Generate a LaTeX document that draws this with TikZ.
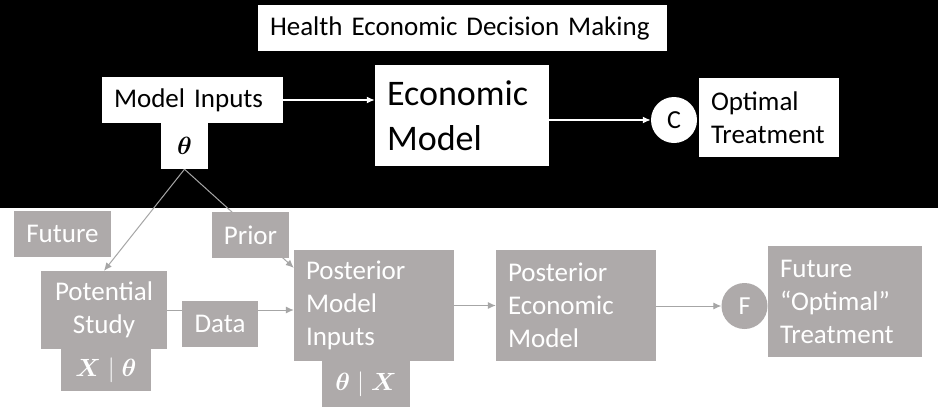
\documentclass[tikz,border=0pt]{standalone}
\usepackage{fontspec}
\usepackage{amsmath}
\usepackage{bm}
\setmainfont{Carlito}
\usetikzlibrary{arrows.meta,backgrounds}
\definecolor{boxgray}{HTML}{AEAAAA}
\definecolor{linegray}{HTML}{A6A6A6}
\newcommand\boxfont[2]{\fontsize{#1}{#2}\selectfont\spaceskip=0.2em\relax}

\begin{document}
\begin{tikzpicture}[x=1pt,y=-1pt,
  every node/.style={inner xsep=12pt,inner ysep=0pt,font=\boxfont{27}{33}},
  whitebox/.style={fill=white,text=black},
  graybox/.style={fill=boxgray,text=white},
  dot/.style={circle,inner sep=0pt,minimum size=46pt,font=\boxfont{26}{30}},
  wflow/.style={draw=white,line width=1.5pt,-{Latex[length=8pt,width=7pt]}},
  gflow/.style={draw=linegray,line width=1pt,-{Latex[length=8pt,width=7pt]}}]

\useasboundingbox (0,0) rectangle (938,413);

\node[whitebox,text width=385pt,minimum height=46pt,align=left] (title) at (462.5,28) {Health Economic Decision Making};
\node[whitebox,text width=157pt,minimum height=46pt,align=left] (inputs) at (192.5,100) {Model Inputs};
\node[whitebox,minimum width=47pt,minimum height=46pt,inner xsep=0pt] (theta) at (184.5,146) {$\bm{\theta}$};
\node[whitebox,text width=150pt,minimum height=101pt,align=left,font=\boxfont{36}{45}] (econ) at (462,115.5) {Economic\\Model};
\node[whitebox,dot] (C) at (674,120) {C};
\node[whitebox,text width=116pt,minimum height=79pt,align=left] (optimal) at (769,117.5) {Optimal\\Treatment};

\node[graybox,minimum width=97pt,minimum height=46pt] (future) at (62.5,234) {Future};
\node[graybox,minimum width=77pt,minimum height=46pt] (prior) at (250.5,235) {Prior};
\node[graybox,text width=102pt,minimum height=78pt,align=center] (study) at (104,310) {Potential\\Study};
\node[graybox,minimum width=90pt,minimum height=42pt,inner xsep=0pt] (xgiven) at (106,370) {$\bm{X}\mid\bm{\theta}$};
\node[graybox,minimum width=76pt,minimum height=46pt] (data) at (220,324) {Data};
\node[graybox,text width=136pt,minimum height=111pt,align=left] (postin) at (374,305.5) {Posterior\\Model\\Inputs};
\node[graybox,minimum width=88pt,minimum height=46pt,inner xsep=0pt] (thetagiven) at (366,384) {$\bm{\theta}\mid\bm{X}$};
\node[graybox,text width=136pt,minimum height=111pt,align=left] (postecon) at (576,305.5) {Posterior\\Economic\\Model};
\node[graybox,dot] (F) at (744.5,306) {F};
\node[graybox,text width=130pt,minimum height=111pt,align=left] (futopt) at (845,301.5) {Future\\“Optimal”\\Treatment};

\draw[wflow] (inputs.east) -- (inputs.east -| econ.west);
\draw[wflow] (econ.east |- C) -- (C);
\draw[gflow] (postin.east) -- (postin.east -| postecon.west);
\draw[gflow] (postecon.east |- F) -- (F);

\begin{scope}[on background layer]
\fill[white] (0,0) rectangle (938,413);
\fill[black] (0,0) rectangle (938,208);
\draw[gflow] (theta.south) -- (study.north);
\draw[gflow] (theta.south) -- ([yshift=-18pt]postin.north west);
\draw[gflow] (study.east) -- (study.east -| postin.west);
\end{scope}
\end{tikzpicture}
\end{document}
